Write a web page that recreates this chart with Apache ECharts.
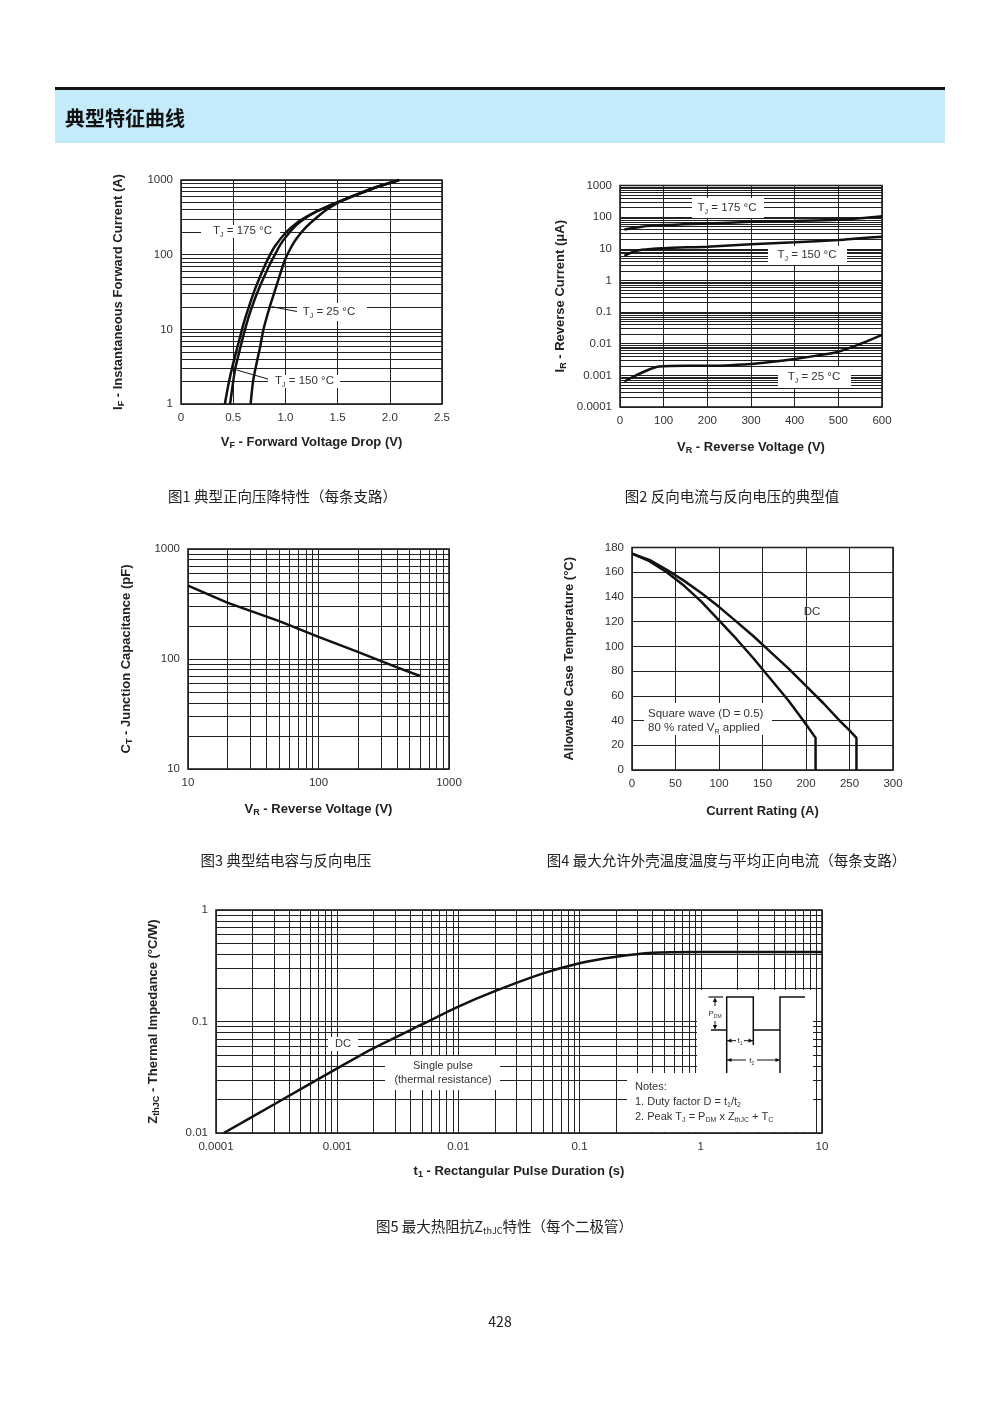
<!DOCTYPE html>
<html lang="zh">
<head>
<meta charset="utf-8">
<title>典型特征曲线</title>
<script src="https://cdn.jsdelivr.net/npm/echarts@6.0.0/dist/echarts.min.js"></script>
<style>
html,body{margin:0;padding:0;background:#fff;}
#chart{width:1000px;height:1414px;}
</style>
</head>
<body>
<div id="chart"></div>
<script>
// ================= DATA =================
// Fig.1 forward characteristics: [VF (V), IF (A)]
const fig1Tj175 = [[0.42,1],[0.46,2],[0.5,3.5],[0.55,6.5],[0.6,12],[0.65,20],[0.7,32],[0.75,48],[0.8,70],[0.85,98],[0.9,130],[1.0,195],[1.1,260],[1.2,320],[1.3,380],[1.4,440],[1.5,500],[1.6,570],[1.7,645],[1.8,730],[1.9,820],[2.0,910],[2.09,1000]];
const fig1Tj150 = [[0.47,1],[0.5,2],[0.52,3],[0.55,4.5],[0.6,8.5],[0.65,15],[0.7,24],[0.75,36],[0.8,52],[0.85,74],[0.9,100],[0.95,135],[1.0,170],[1.1,245],[1.2,315],[1.3,380],[1.4,440],[1.5,505],[1.6,575],[1.7,650],[1.8,735],[1.9,825],[2.0,915],[2.09,1000]];
const fig1Tj25  = [[0.667,1],[0.69,2],[0.72,3.3],[0.76,6],[0.79,10],[0.85,20],[0.9,33],[0.95,55],[1.0,88],[1.05,122],[1.1,160],[1.2,235],[1.3,315],[1.4,405],[1.5,495],[1.6,575],[1.7,655],[1.8,745],[1.9,830],[2.0,915],[2.08,1000]];
const fig1XTicks = ['0','0.5','1.0','1.5','2.0','2.5'];
const fig1YTicks = ['1','10','100','1000'];

// Fig.2 reverse current (µA) vs reverse voltage (V)
const fig2Tj175Volt = [10, 50, 100, 200, 300, 400, 500, 550, 600];
const fig2Tj175Curr = [41, 50, 56, 63, 71, 76, 83, 92, 107];
const fig2Tj150Volt = [10, 30, 50, 100, 200, 300, 400, 500, 550, 600];
const fig2Tj150Curr = [6, 8, 9.3, 10.4, 11.7, 13.8, 16, 19, 21.5, 24];
const fig2Tj25Volt  = [10, 30, 60, 90, 150, 200, 300, 350, 400, 450, 500, 550, 600];
const fig2Tj25Curr  = [0.00064, 0.0009, 0.0014, 0.0019, 0.002, 0.002, 0.0023, 0.0027, 0.0033, 0.0042, 0.0056, 0.0098, 0.019];
const fig2YTicks = ['0.0001','0.001','0.01','0.1','1','10','100','1000'];

// Fig.3 junction capacitance (pF) vs reverse voltage (V)
const fig3Volt = [10, 20, 50, 100, 200, 400, 600];
const fig3Cap  = [464, 325, 221, 159, 116, 84, 70];
const fig3Ticks = ['10','100','1000'];

// Fig.4 allowable case temperature (°C) vs current rating (A)
const fig4DcCurr = [0, 20, 40, 60, 80, 100, 120, 140, 160, 180, 200, 220, 240, 250, 258, 258];
const fig4DcTemp = [175, 170, 162, 153, 143, 132, 120, 108, 95, 82, 68, 54, 39, 32, 26, 0];
const fig4SqCurr = [0, 20, 40, 60, 80, 100, 120, 140, 160, 180, 200, 211, 211];
const fig4SqTemp = [175, 169, 160, 149, 136, 121, 106, 90, 73, 56, 37, 26, 0];

// Fig.5 thermal impedance (°C/W) vs pulse duration (s)
const fig5Time = [0.000116, 0.0003, 0.001, 0.002, 0.005, 0.01, 0.02, 0.05, 0.1, 0.2, 0.4, 1, 10];
const fig5Zth  = [0.01, 0.018, 0.038, 0.0577, 0.094, 0.136, 0.187, 0.27, 0.333, 0.381, 0.414, 0.42, 0.42];
const fig5XTicks = ['0.0001','0.001','0.01','0.1','1','10'];
const fig5YTicks = ['0.01','0.1','1'];

// log-grid mantissas for minor grid lines
const logMantissas = [2, 3, 4, 5, 6, 7, 8, 9];

// ================= HELPERS =================
const FONT = '"Liberation Sans", Arial, Helvetica, sans-serif';
const CJK = '"Noto Sans CJK SC", "Noto Sans", sans-serif';
const GRIDC = '#222';
const CURVE = '#111';

const zip = (xs, ys) => xs.map((x, i) => [x, ys[i]]);
function minorValues(e0, e1) {
  const out = [];
  for (let e = e0; e < e1; e++) for (const m of logMantissas) out.push(parseFloat((m * Math.pow(10, e)).toPrecision(6)));
  return out;
}
function tickFmt(arr) {
  return function (v) {
    const hit = arr.find(s => Math.abs(parseFloat(s) - v) <= 1e-9 * Math.max(1, Math.abs(v)));
    return hit !== undefined ? hit : '';
  };
}
const nameRich = {
  b: {fontSize: 13, fontWeight: 'bold', fontFamily: FONT, color: '#222', lineHeight: 16},
  s: {fontSize: 9, fontWeight: 'bold', fontFamily: FONT, color: '#222', lineHeight: 16, verticalAlign: 'bottom'}
};
function axis(o, labelExtra) {
  return Object.assign({
    nameLocation: 'middle',
    nameTextStyle: {rich: nameRich},
    axisLine: {show: false},
    axisTick: {show: false},
    splitLine: {show: true, lineStyle: {color: GRIDC, width: 1}},
    axisLabel: Object.assign({color: '#333', fontSize: 11.5, fontFamily: FONT, margin: 8}, labelExtra || {})
  }, o);
}
function gridMark(xs, ys) {
  return {
    silent: true, symbol: ['none', 'none'], z: 1, animation: false, precision: 12,
    label: {show: false}, emphasis: {disabled: true},
    lineStyle: {color: GRIDC, width: 1, type: 'solid', opacity: 1},
    data: [].concat(xs.map(v => ({xAxis: v})), ys.map(v => ({yAxis: v})))
  };
}
function curve(idx, data, extra) {
  return Object.assign({
    type: 'line', xAxisIndex: idx, yAxisIndex: idx, data: data,
    symbol: 'none', smooth: 0.3, silent: true, animation: false, z: 3,
    lineStyle: {color: CURVE, width: 2.5}
  }, extra || {});
}

// ================= GRAPHIC (page decoration & annotations) =================
const G = [];
function rect(x, y, w, h, fill, z) { G.push({type: 'rect', silent: true, z: z || 10, shape: {x, y, width: w, height: h}, style: {fill: fill}}); }
function seg(x1, y1, x2, y2, w) { G.push({type: 'line', silent: true, z: 12, shape: {x1, y1, x2, y2}, style: {stroke: '#111', lineWidth: w || 1}}); }
function poly(points, w) { G.push({type: 'polyline', silent: true, z: 12, shape: {points}, style: {stroke: '#111', lineWidth: w || 1.5, fill: null}}); }
function tri(points) { G.push({type: 'polygon', silent: true, z: 12, shape: {points}, style: {fill: '#111'}}); }
function txt(x, y, text, o) {
  o = o || {};
  const st = {
    x: x, y: y, text: text, fill: o.fill || '#222',
    textAlign: o.align || 'center', textVerticalAlign: 'middle',
    align: o.align || 'center', verticalAlign: 'middle',
    fontSize: o.size || 11.5, fontFamily: o.family || FONT, fontWeight: o.weight || 'normal'
  };
  if (o.rich) st.rich = o.rich;
  G.push({type: 'text', silent: true, z: o.z || 13, style: st});
}
function annRich(size, color) {
  return {
    n: {fontSize: size, fontFamily: FONT, fill: color, color: color, lineHeight: size + 3},
    s: {fontSize: Math.round(size * 0.65), fontFamily: FONT, fill: color, color: color, lineHeight: size + 3, verticalAlign: 'bottom'}
  };
}
const A11 = annRich(11.5, '#333');
const A11b = annRich(11, '#333');

// header
rect(55, 87, 890, 3, '#111', 0);
rect(55, 90, 890, 53, '#c4ebf9', 0);
txt(65, 118, '典型特征曲线', {align: 'left', size: 20, family: CJK, weight: 'bold', fill: '#111'});

// captions
const capRich = {
  c: {fontSize: 14.5, fontFamily: CJK, fill: '#222', color: '#222', lineHeight: 18},
  s: {fontSize: 9, fontFamily: CJK, fill: '#222', color: '#222', lineHeight: 18, verticalAlign: 'bottom'}
};
txt(282.5, 496, '{c|图1 典型正向压降特性（每条支路）}', {rich: capRich});
txt(732, 496, '{c|图2 反向电流与反向电压的典型值}', {rich: capRich});
txt(286, 860, '{c|图3 典型结电容与反向电压}', {rich: capRich});
txt(726.5, 860, '{c|图4 最大允许外壳温度温度与平均正向电流（每条支路）}', {rich: capRich});
txt(504.5, 1226, '{c|图5 最大热阻抗Z}{s|thJC}{c|特性（每个二极管）}', {rich: capRich});
txt(500, 1322, '428', {size: 14, family: CJK, fill: '#222'});

// Fig.1 annotations
rect(201, 225, 79, 13, '#fff');
txt(242.5, 231, '{n|T}{s|J}{n| = 175 °C}', {rich: A11});
rect(297, 303, 70, 18, '#fff');
txt(329, 312, '{n|T}{s|J}{n| = 25 °C}', {rich: A11});
seg(271.7, 306.7, 297, 311.5, 1);
rect(268, 375, 72, 13, '#fff');
txt(304.5, 381, '{n|T}{s|J}{n| = 150 °C}', {rich: A11});
seg(236.7, 370, 268, 379, 1);

// Fig.2 annotations
rect(692, 198, 72, 20, '#fff');
txt(727, 208, '{n|T}{s|J}{n| = 175 °C}', {rich: A11});
rect(768, 246, 79, 19, '#fff');
txt(807, 255, '{n|T}{s|J}{n| = 150 °C}', {rich: A11});
rect(778, 367, 73, 21, '#fff');
txt(814, 377, '{n|T}{s|J}{n| = 25 °C}', {rich: A11});

// Fig.4 annotations
rect(644, 703, 128, 32, '#fff');
txt(648, 714, '{n|Square wave (D = 0.5)}', {align: 'left', rich: A11});
txt(648, 728, '{n|80 % rated V}{s|R}{n| applied}', {align: 'left', rich: A11});
txt(812, 612, 'DC', {size: 11.5, fill: '#333'});

// Fig.5 annotations
rect(328, 1037, 30, 14, '#fff');
txt(343, 1044, 'DC', {size: 11, fill: '#333'});
rect(385, 1056, 115, 34, '#fff');
txt(443, 1066, 'Single pulse', {size: 11, fill: '#333'});
txt(443, 1080, '(thermal resistance)', {size: 11, fill: '#333'});
rect(627, 1073, 186, 59, '#fff');
rect(697, 990, 116, 84, '#fff');
txt(635, 1087, '{n|Notes:}', {align: 'left', rich: A11b});
txt(635, 1102, '{n|1. Duty factor D = t}{s|1}{n|/t}{s|2}', {align: 'left', rich: A11b});
txt(635, 1117, '{n|2. Peak T}{s|J}{n| = P}{s|DM}{n| x Z}{s|thJC}{n| + T}{s|C}', {align: 'left', rich: A11b});
// pulse diagram
poly([[711, 1030], [726.7, 1030], [726.7, 997], [753.3, 997], [753.3, 1030], [780, 1030], [780, 997], [805, 997]], 1.5);
seg(708.5, 997, 723, 997, 1.2);
seg(726.7, 1030, 726.7, 1073, 1.5);
seg(753.3, 1030, 753.3, 1045, 1.5);
seg(780, 1030, 780, 1073, 1.5);
// PDM arrow
seg(715, 999, 715, 1006, 1);
seg(715, 1021, 715, 1028, 1);
tri([[715, 997.5], [712.8, 1002], [717.2, 1002]]);
tri([[715, 1029.5], [712.8, 1025], [717.2, 1025]]);
txt(715, 1013.5, '{n|P}{s|DM}', {rich: annRich(8, '#333')});
// t1 arrow
seg(727, 1040.7, 736, 1040.7, 1);
seg(744, 1040.7, 753, 1040.7, 1);
tri([[727.2, 1040.7], [731.5, 1038.6], [731.5, 1042.8]]);
tri([[752.8, 1040.7], [748.5, 1038.6], [748.5, 1042.8]]);
txt(740, 1041, '{n|t}{s|1}', {rich: annRich(8, '#333')});
// t2 arrow
seg(727, 1060, 746, 1060, 1);
seg(757, 1060, 779.5, 1060, 1);
tri([[727.2, 1060], [731.5, 1057.9], [731.5, 1062.1]]);
tri([[779.8, 1060], [775.5, 1057.9], [775.5, 1062.1]]);
txt(751.7, 1060.5, '{n|t}{s|2}', {rich: annRich(8, '#333')});

// ================= OPTION =================
const gridBase = {show: true, borderColor: '#111', borderWidth: 1.5, containLabel: false};
const option = {
  backgroundColor: '#fff',
  animation: false,
  textStyle: {fontFamily: FONT},
  grid: [
    Object.assign({left: 181, top: 180, width: 261, height: 224}, gridBase),
    Object.assign({left: 620, top: 185.5, width: 262, height: 221.5}, gridBase),
    Object.assign({left: 188, top: 549, width: 261, height: 220}, gridBase),
    Object.assign({left: 632, top: 547.5, width: 261, height: 222.5}, gridBase),
    Object.assign({left: 216, top: 910, width: 606, height: 223}, gridBase)
  ],
  xAxis: [
    axis({gridIndex: 0, type: 'value', min: 0, max: 2.5, interval: 0.5, nameGap: 30,
      name: '{b|V}{s|F}{b| - Forward Voltage Drop (V)}'}, {formatter: tickFmt(fig1XTicks)}),
    axis({gridIndex: 1, type: 'value', min: 0, max: 600, interval: 100, nameGap: 32,
      name: '{b|V}{s|R}{b| - Reverse Voltage (V)}'}),
    axis({gridIndex: 2, type: 'log', logBase: 10, min: 10, max: 1000, nameGap: 32,
      name: '{b|V}{s|R}{b| - Reverse Voltage (V)}'}, {formatter: tickFmt(fig3Ticks)}),
    axis({gridIndex: 3, type: 'value', min: 0, max: 300, interval: 50, nameGap: 33,
      name: '{b|Current Rating (A)}'}),
    axis({gridIndex: 4, type: 'log', logBase: 10, min: 0.0001, max: 10, nameGap: 30,
      name: '{b|t}{s|1}{b| - Rectangular Pulse Duration (s)}'}, {formatter: tickFmt(fig5XTicks)})
  ],
  yAxis: [
    axis({gridIndex: 0, type: 'log', logBase: 10, min: 1, max: 1000, nameGap: 55,
      name: '{b|I}{s|F}{b| - Instantaneous Forward Current (A)}'}, {formatter: tickFmt(fig1YTicks)}),
    axis({gridIndex: 1, type: 'log', logBase: 10, min: 0.0001, max: 1000, nameGap: 52,
      name: '{b|I}{s|R}{b| - Reverse Current (μA)}'}, {formatter: tickFmt(fig2YTicks)}),
    axis({gridIndex: 2, type: 'log', logBase: 10, min: 10, max: 1000, nameGap: 54,
      name: '{b|C}{s|T}{b| - Junction Capacitance (pF)}'}, {formatter: tickFmt(fig3Ticks)}),
    axis({gridIndex: 3, type: 'value', min: 0, max: 180, interval: 20, nameGap: 55,
      name: '{b|Allowable Case Temperature (°C)}'}),
    axis({gridIndex: 4, type: 'log', logBase: 10, min: 0.01, max: 1, nameGap: 55,
      name: '{b|Z}{s|thJC}{b| - Thermal Impedance (°C/W)}'}, {formatter: tickFmt(fig5YTicks)})
  ],
  series: [
    // Fig.1
    curve(0, fig1Tj175, {name: 'TJ = 175 °C', markLine: gridMark([], minorValues(0, 3))}),
    curve(0, fig1Tj150, {name: 'TJ = 150 °C'}),
    curve(0, fig1Tj25, {name: 'TJ = 25 °C'}),
    // Fig.2
    curve(1, zip(fig2Tj175Volt, fig2Tj175Curr), {name: 'TJ = 175 °C', markLine: gridMark([], minorValues(-4, 3))}),
    curve(1, zip(fig2Tj150Volt, fig2Tj150Curr), {name: 'TJ = 150 °C'}),
    curve(1, zip(fig2Tj25Volt, fig2Tj25Curr), {name: 'TJ = 25 °C'}),
    // Fig.3
    curve(2, zip(fig3Volt, fig3Cap), {name: 'CT', smooth: false, markLine: gridMark(minorValues(1, 3), minorValues(1, 3))}),
    // Fig.4
    curve(3, zip(fig4DcCurr, fig4DcTemp), {name: 'DC', smooth: false}),
    curve(3, zip(fig4SqCurr, fig4SqTemp), {name: 'Square wave', smooth: false}),
    // Fig.5
    curve(4, zip(fig5Time, fig5Zth), {name: 'ZthJC', smooth: 0.2, markLine: gridMark(minorValues(-4, 1), minorValues(-2, 0))})
  ],
  graphic: {elements: G}
};

const chart = echarts.init(document.getElementById('chart'), null, {renderer: 'canvas', width: 1000, height: 1414});
chart.setOption(option);
</script>
</body>
</html>
